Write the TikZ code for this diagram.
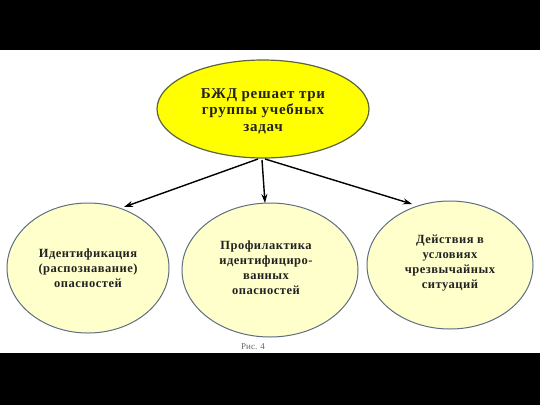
\documentclass[tikz,border=0pt]{standalone}
\usepackage{fontspec}
\setmainfont{Liberation Serif}
\newfontfamily\spacedserif[LetterSpace=5]{Liberation Serif}
\newfontfamily\spacedlow[LetterSpace=4]{Liberation Serif}
\usetikzlibrary{shapes.geometric,arrows.meta}
\definecolor{topfill}{HTML}{FFFF00}
\definecolor{topline}{HTML}{5C6440}
\definecolor{lowfill}{HTML}{FFFFCC}
\definecolor{lowline}{HTML}{5F6E80}
\definecolor{txt}{HTML}{222222}
\begin{document}
\begin{tikzpicture}[x=1pt,y=-1pt,
  topell/.style={ellipse,draw=topline,line width=1.2pt,fill=topfill,inner sep=0pt},
  lowell/.style={ellipse,draw=lowline,line width=1pt,fill=lowfill,inner sep=0pt},
  lbl/.style={align=center,text=txt},
  toplbl/.style={lbl,font=\spacedserif\bfseries\fontsize{15}{16.5}\selectfont},
  lowlbl/.style={lbl,font=\spacedlow\bfseries\fontsize{12.5}{15}\selectfont},
  arr/.style={-{Stealth[length=9pt,width=6pt]},line width=1.4pt,black}]
\fill[black] (0,0) rectangle (540,405);
\fill[white] (0,50) rectangle (540,353);
\useasboundingbox (0,0) rectangle (540,405);
\node[topell,minimum width=212pt,minimum height=98pt] (top) at (263,109) {};
\node[toplbl] (toptxt) at (263,111) {БЖД решает три\\группы учебных\\задач};
\node[lowell,minimum width=162pt,minimum height=130pt] (l) at (88,268) {};
\node[lowell,minimum width=176pt,minimum height=134pt] (m) at (270,270) {};
\node[lowell,minimum width=166pt,minimum height=128pt] (r) at (450,265) {};
\node[lowlbl] (ltxt) at (88,268) {Идентификация\\(распознавание)\\опасностей};
\node[lowlbl] (mtxt) at (266,268) {Профилактика\\идентифициро-\\ванных\\опасностей};
\node[lowlbl] (rtxt) at (450,263) {Действия в\\условиях\\чрезвычайных\\ситуаций};
\coordinate (s1) at (258,159);
\coordinate (s2) at (262,160);
\coordinate (s3) at (265,159);
\coordinate (e1) at (124,207);
\coordinate (e2) at (265,203);
\coordinate (e3) at (412,204);
\draw[arr] (s1) -- (e1);
\draw[arr] (s2) -- (e2);
\draw[arr] (s3) -- (e3);
\node[text=black!60,font=\fontsize{9}{10}\selectfont] (cap) at (253,347) {Рис. 4};
\end{tikzpicture}
\end{document}
